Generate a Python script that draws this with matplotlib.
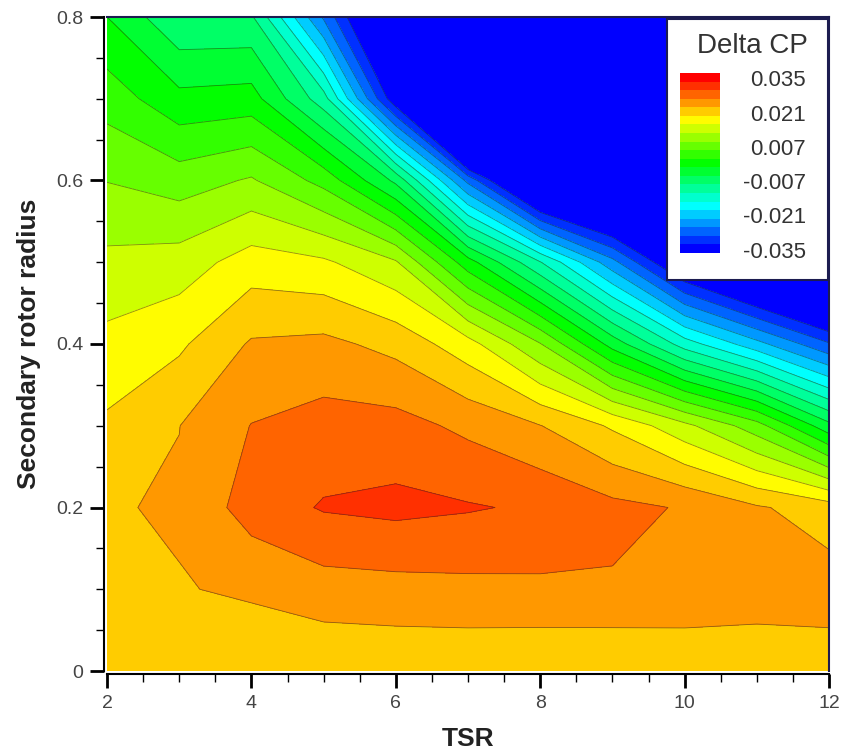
import numpy as np
import matplotlib
matplotlib.use('Agg')
import matplotlib.pyplot as plt
from matplotlib.colors import LinearSegmentedColormap, ListedColormap
from matplotlib.ticker import MultipleLocator, FuncFormatter

plt.rcParams['font.family'] = ['Liberation Sans', 'DejaVu Sans']

# grid of the simulation: tip speed ratio and secondary rotor radius
tsr = [2, 3, 4, 5, 6, 7, 8, 9, 10, 11, 12]
radius = [0.0, 0.1, 0.2, 0.3, 0.4, 0.5, 0.6, 0.7, 0.8]

# Delta CP, one row per radius
cp_r00 = [0.0220, 0.0220, 0.0220, 0.0215, 0.0217, 0.0216, 0.0213, 0.0210, 0.0215, 0.0218, 0.0227]
cp_r01 = [0.0228, 0.0243, 0.0250, 0.0265, 0.0268, 0.0271, 0.0273, 0.0276, 0.0272, 0.0265, 0.0261]
cp_r02 = [0.0242, 0.0249, 0.0296, 0.0318, 0.0324, 0.0318, 0.0310, 0.0290, 0.0277, 0.0249, 0.0228]
cp_r03 = [0.0216, 0.02445, 0.0281, 0.0294, 0.0293, 0.0272, 0.0246, 0.0205, 0.0150, 0.0085, -0.0024]
cp_r04 = [0.0185, 0.0204, 0.0249, 0.0254, 0.0234, 0.0189, 0.0107, -0.0014, -0.0122, -0.0198, -0.0276]
cp_r05 = [0.0149, 0.0156, 0.0192, 0.0181, 0.0144, 0.0015, -0.0103, -0.0233, -0.0376, -0.0458, -0.0536]
cp_r06 = [0.0104, 0.0088, 0.0109, 0.0058, -0.0043, -0.0255, -0.0450, -0.0500, -0.0550, -0.0600, -0.0650]
cp_r07 = [0.0055, 0.0010, 0.0015, -0.0090, -0.0345, -0.0700, -0.0750, -0.0750, -0.0750, -0.0750, -0.0750]
cp_r08 = [0.0000, -0.0065, -0.0065, -0.0250, -0.0450, -0.0800, -0.0800, -0.0800, -0.0800, -0.0800, -0.0800]

legend_ticks = [0.035, 0.021, 0.007, -0.007, -0.021, -0.035]

Z = np.array([cp_r00, cp_r01, cp_r02, cp_r03, cp_r04, cp_r05, cp_r06, cp_r07, cp_r08])
X, Y = np.meshgrid(tsr, radius)

levels = np.linspace(-0.035, 0.035, 21)
rainbow = LinearSegmentedColormap.from_list(
    'small_rainbow', ['#0000ff', '#00ffff', '#00ff00', '#ffff00', '#ff0000'])
norm = plt.Normalize(levels[0], levels[-1])
# each band takes the colour of its lower level
band_colors = [rainbow(norm(l)) for l in levels[:-1]]
fill_levels = levels.copy()
fill_levels[0] = -1.0

fig = plt.figure(figsize=(8.57, 7.55), dpi=100)
ax = fig.add_axes([107 / 857, 84 / 755, 722 / 857, 654 / 755])

ax.contourf(X, Y, Z, levels=fill_levels, colors=band_colors)
ax.contour(X, Y, Z, levels=levels[1:-1], colors='#222222', linewidths=0.6,
           alpha=0.5, linestyles='solid')

ax.set_xlim(2, 12)
ax.set_ylim(0, 0.8)
ax.xaxis.set_major_locator(MultipleLocator(2))
ax.xaxis.set_minor_locator(MultipleLocator(0.5))
ax.yaxis.set_major_locator(MultipleLocator(0.2))
ax.yaxis.set_minor_locator(MultipleLocator(0.05))
ax.yaxis.set_major_formatter(FuncFormatter(lambda v, p: '%g' % round(v, 2)))
ax.tick_params(which='major', length=10, width=2, direction='out',
               labelsize=14, labelcolor='#444444', pad=5)
ax.tick_params(which='minor', length=6, width=1, direction='out')

for side in ['left', 'bottom']:
    ax.spines[side].set_position(('outward', 2))
    ax.spines[side].set_linewidth(1.5)
for side in ['top', 'right']:
    ax.spines[side].set_color('#1c1c50')
    ax.spines[side].set_linewidth(1.5)

ax.set_xlabel('TSR', fontsize=19, fontweight='bold', color='#222222')
ax.set_ylabel('Secondary rotor radius', fontsize=19, fontweight='bold', color='#222222')
ax.xaxis.set_label_coords(0.5, -0.085)
ax.yaxis.set_label_coords(-0.092, 0.5)

# legend box
lax = fig.add_axes([667 / 857, (755 - 280) / 755, 161 / 857, 261 / 755])
lax.set_xticks([])
lax.set_yticks([])
lax.set_facecolor('white')
for s in lax.spines.values():
    s.set_color('#1c1c50')
    s.set_linewidth(1.5)
lax.text(0.53, 0.895, 'Delta CP', transform=lax.transAxes, ha='center', va='center',
         fontsize=20, color='#333333')

cax = fig.add_axes([680 / 857, (755 - 253) / 755, 40 / 857, 180 / 755])
box_colors = [rainbow(norm(l)) for l in levels]
cax.imshow(np.arange(len(levels)).reshape(-1, 1), cmap=ListedColormap(box_colors),
           aspect='auto', origin='lower', extent=[0, 1, -0.5, len(levels) - 0.5])
cax.set_xticks([])
cax.set_yticks([])
for s in cax.spines.values():
    s.set_visible(False)
for t in legend_ticks:
    k = (t - levels[0]) / (levels[1] - levels[0])
    cax.text(3.15, k - 0.4, '%g' % t, transform=cax.get_yaxis_transform(),
             ha='right', va='center', fontsize=16, color='#333333')

fig.savefig('out.png', dpi=100)
